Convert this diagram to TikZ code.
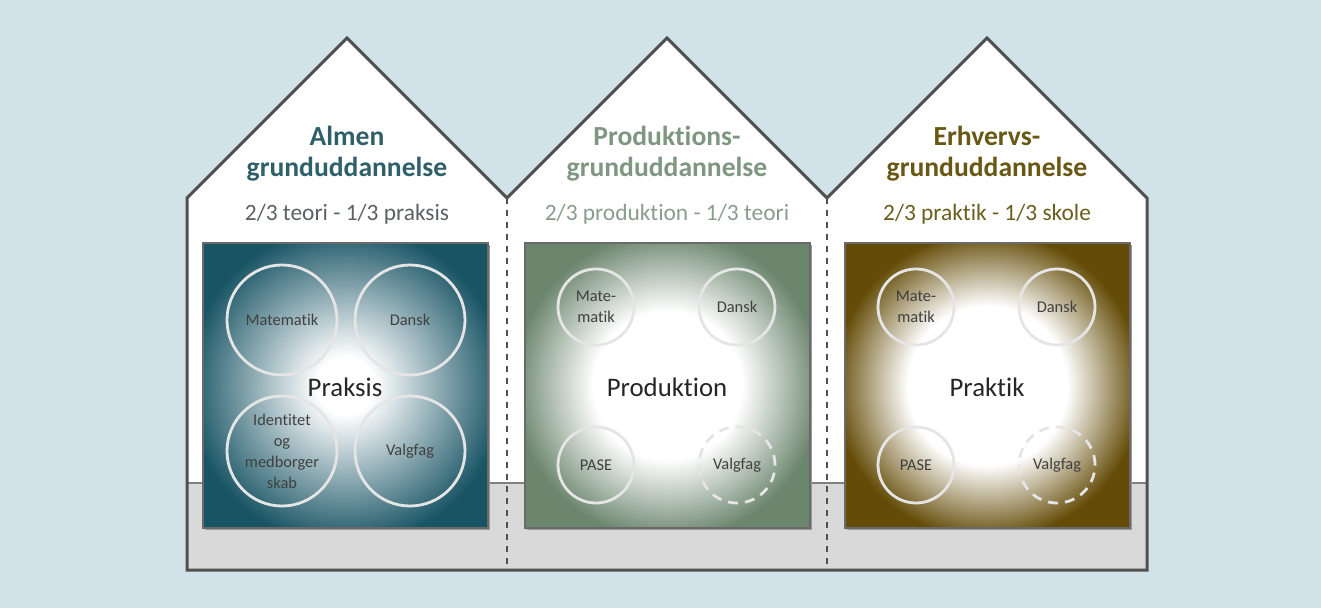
\documentclass[tikz,border=0pt]{standalone}
\usepackage{fontspec}
\setmainfont{Carlito}[Ligatures=NoCommon]
\usepackage{tikz}

\definecolor{skyblue}{RGB}{209,227,233}
\definecolor{wallgray}{RGB}{80,80,80}
\definecolor{floorgray}{RGB}{217,217,217}
\definecolor{almenteal}{RGB}{24,84,100}
\definecolor{prodgreen}{RGB}{108,134,110}
\definecolor{erhvbrown}{RGB}{100,76,8}
\definecolor{titleA}{RGB}{47,96,106}
\definecolor{subA}{RGB}{90,98,100}
\definecolor{titleB}{RGB}{127,151,128}
\definecolor{subB}{RGB}{138,156,140}
\definecolor{titleC}{RGB}{104,88,20}
\definecolor{subC}{RGB}{108,94,30}

\pgfdeclareradialshading{glowteal}{\pgfpoint{0bp}{0bp}}{color(0bp)=(white); color(5bp)=(white); color(28bp)=(almenteal); color(50bp)=(almenteal)}
\pgfdeclareradialshading{glowgreen}{\pgfpoint{0bp}{0bp}}{color(0bp)=(white); color(13bp)=(white); color(27bp)=(prodgreen); color(50bp)=(prodgreen)}
\pgfdeclareradialshading{glowbrown}{\pgfpoint{0bp}{0bp}}{color(0bp)=(white); color(14bp)=(white); color(27bp)=(erhvbrown); color(50bp)=(erhvbrown)}

\begin{document}
\begin{tikzpicture}[x=0.5pt, y=-0.5pt,
    subject/.style={circle, draw=gray!20, line width=1.4pt, inner sep=0pt, align=center,
        text=black!75, font=\fontsize{8.2pt}{10.5pt}\selectfont},
    bigsubject/.style={subject, minimum size=55pt},
    smallsubject/.style={subject, minimum size=38pt},
    elective/.style={smallsubject, dash pattern=on 5pt off 3.5pt},
    housetitle/.style={font=\fontsize{13.8pt}{16pt}\selectfont\bfseries, anchor=base},
    ratio/.style={font=\fontsize{11.7pt}{14pt}\selectfont, anchor=base},
    core/.style={font=\fontsize{13.4pt}{16pt}\selectfont, text=black!85, anchor=base},
    panel/.style={draw=wallgray!85, line width=1pt}]

    % Background
    \fill[skyblue] (0,0) rectangle (1321,608);
    \useasboundingbox (0,0) rectangle (1321,608);

    % House body and floor
    \fill[white] (187,570) -- (187,198) -- (347,38) -- (507,198) -- (667,38)
        -- (827,198) -- (987,38) -- (1147,198) -- (1147,570) -- cycle;
    \fill[floorgray] (187,483) rectangle (1147,570);
    \draw[gray, line width=1pt] (187,483) -- (1147,483);

    % Dashed partitions
    \foreach \x in {507,827}
        \draw[wallgray, dashed, line width=0.6pt] (\x,198) -- (\x,570);

    % Outline
    \draw[wallgray, line width=1.5pt] (187,570) -- (187,198) -- (347,38) -- (507,198)
        -- (667,38) -- (827,198) -- (987,38) -- (1147,198) -- (1147,570) -- cycle;

    % Panels
    \foreach \x/\shd in {203/glowteal, 525/glowgreen, 845/glowbrown} {
        \fill[black!40] (\x+2,245) rectangle (\x+287,530);
        \shade[shading=\shd] (\x,243) rectangle (\x+285,528);
        \draw[panel] (\x,243) rectangle (\x+285,528);
    }

    % Titles
    \node[housetitle, text=titleA] (aTitle) at (347,146) {Almen};
    \node[housetitle, text=titleA] (aTitleB) at (347,177) {grunduddannelse};
    \node[ratio, text=subA] (aRatio) at (347,221) {2/3 teori - 1/3 praksis};

    \node[housetitle, text=titleB] (pTitle) at (667,146) {Produktions-};
    \node[housetitle, text=titleB] (pTitleB) at (667,177) {grunduddannelse};
    \node[ratio, text=subB] (pRatio) at (667,221) {2/3 produktion - 1/3 teori};

    \node[housetitle, text=titleC] (eTitle) at (987,146) {Erhvervs-};
    \node[housetitle, text=titleC] (eTitleB) at (987,177) {grunduddannelse};
    \node[ratio, text=subC] (eRatio) at (987,221) {2/3 praktik - 1/3 skole};

    % Subjects, Almen
    \node[bigsubject] (aMat) at (282,320) {Matematik};
    \node[bigsubject] (aDan) at (410,320) {Dansk};
    \node[bigsubject] (aIde) at (282,451) {Identitet\\og\\medborger\\skab};
    \node[bigsubject] (aVal) at (410,451) {Valgfag};

    % Subjects, Produktion
    \node[smallsubject] (pMat) at (596,307) {Mate-\\matik};
    \node[smallsubject] (pDan) at (737,307) {Dansk};
    \node[smallsubject] (pPas) at (596,465) {PASE};
    \node[elective] (pVal) at (737,465) {Valgfag};

    % Subjects, Erhverv
    \node[smallsubject] (eMat) at (916,307) {Mate-\\matik};
    \node[smallsubject] (eDan) at (1057,307) {Dansk};
    \node[smallsubject] (ePas) at (916,465) {PASE};
    \node[elective] (eVal) at (1057,465) {Valgfag};

    % Core words
    \node[core] (aCore) at (345,397) {Praksis};
    \node[core] (pCore) at (667,397) {Produktion};
    \node[core] (eCore) at (987,397) {Praktik};
\end{tikzpicture}
\end{document}
